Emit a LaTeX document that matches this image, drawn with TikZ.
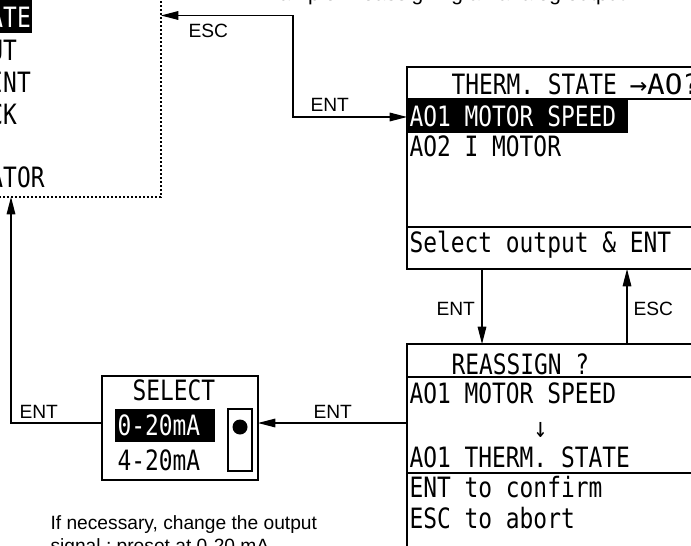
\documentclass[tikz,border=0pt]{standalone}
\usepackage{fontspec}
\setmainfont{Liberation Sans}
\newfontfamily\lcd[FakeStretch=0.817]{DejaVu Sans Mono}
\newfontfamily\lcdwide[FakeStretch=1.05]{DejaVu Sans Mono}
\usetikzlibrary{arrows.meta}
\begin{document}
\begin{tikzpicture}[x=0.75pt, y=-0.75pt, line width=0.8pt, >={Triangle[length=13pt,width=6.5pt]},
		lab/.style={font=\fontsize{14.4}{16}\selectfont, inner sep=0pt, anchor=base west},
		lcdtxt/.style={font=\lcd\fontsize{21}{24}\selectfont, inner sep=0pt, anchor=base west},
		inv/.style={lcdtxt, text=white},
		frame/.style={line width=0.9pt},
		headbox/.style={line width=1.3pt},
		sep/.style={line width=1.6pt}]
		\useasboundingbox (0,0) rectangle (691,545);
		\clip (0,0) rectangle (691,545);
		% title, cut by the top edge
		\node[font=\fontsize{15.75}{18}\selectfont, inner sep=0pt, anchor=base west] (title) at (254,1) {Example : reassigning an analog output};
		% menu screen (left, dotted)
		\draw[frame, dash pattern=on 1.5pt off 1.5pt] (-200,-60) rectangle (161,197);
		\fill (-140,-5) rectangle (32,33);
		\node[inv] (m1) at (-135,28) {THERM. STATE};
		\node[lcdtxt] (m2) at (-135,61) {ANAL. INPUT};
		\node[lcdtxt] (m3) at (-135,93) {PID SETPOINT};
		\node[lcdtxt] (m4) at (-135,125) {MOTOR BLOCK};
		\node[lcdtxt] (m6) at (-135,188) {PID REGULATOR};
		% output list screen
		\draw[frame] (407,67) rectangle (720,269);
		\draw[headbox] (407,67) rectangle (720,99);
		\draw[sep] (407,227) -- (720,227);
		\node[lcdtxt] (t0) at (451,95) {THERM. STATE};
		\node[lcdtxt, font=\lcdwide\fontsize{21}{24}\selectfont] (t0b) at (629,95) {→AO?};
		\fill (407,100) rectangle (628,133);
		\node[inv] (t1) at (409,127) {AO1 MOTOR SPEED};
		\node[lcdtxt] (t2) at (409,157) {AO2 I MOTOR};
		\node[lcdtxt] (t3) at (409,252) {Select output \& ENT};
		% reassign screen
		\draw[frame] (407,344) rectangle (720,600);
		\draw[headbox] (407,344) rectangle (720,377);
		\draw[sep] (407,473) -- (720,473);
		\node[lcdtxt] (r0) at (451,374) {REASSIGN ?};
		\node[lcdtxt] (r1) at (409,403) {AO1 MOTOR SPEED};
		\node[lcdtxt] (r2) at (533,437) {↓};
		\node[lcdtxt] (r3) at (409,467) {AO1 THERM. STATE};
		\node[lcdtxt] (r4) at (409,497) {ENT to confirm};
		\node[lcdtxt] (r5) at (409,528) {ESC to abort};
		% select screen
		\draw[frame] (102,376) rectangle (258,480);
		\node[lcdtxt] (s0) at (132,400) {SELECT};
		\fill (115,409) rectangle (215,442);
		\node[inv] (s1) at (117,435) {0-20mA};
		\node[lcdtxt] (s2) at (117,470) {4-20mA};
		\draw[line width=1.8pt] (228,409) rectangle (252,471);
		\fill (240,427) circle (7.5);
		% connectors
		\coordinate (menuIn) at (161,15.5);
		\coordinate (escBend) at (293,15.5);
		\coordinate (entBend) at (293,117);
		\coordinate (thermIn) at (407,117);
		\coordinate (thermOut) at (482,269);
		\coordinate (reasIn) at (482,344);
		\coordinate (reasOut) at (627,344);
		\coordinate (thermBack) at (627,269);
		\coordinate (reasLeft) at (407,423);
		\coordinate (selIn) at (258,423);
		\coordinate (selOut) at (102,423);
		\coordinate (menuBend) at (11,423);
		\coordinate (menuOut) at (11,197);
		\draw[<->] (menuIn) -- (escBend) -- (entBend) -- (thermIn);
		\draw[->] (thermOut) -- (reasIn);
		\draw[->] (reasOut) -- (thermBack);
		\draw[->] (reasLeft) -- (selIn);
		\draw[->] (selOut) -- (menuBend) -- (menuOut);
		\node[lab] (esc1) at (188,38) {ESC};
		\node[lab] (ent1) at (310,112) {ENT};
		\node[lab] (ent2) at (436,315) {ENT};
		\node[lab] (esc2) at (633,315) {ESC};
		\node[lab] (ent3) at (313,418) {ENT};
		\node[lab] (ent4) at (19,418) {ENT};
		% note under the select screen
		\node[lab] (note1) at (50,529) {If necessary, change the output};
		\node[lab] (note2) at (50,552) {signal ; preset at 0-20 mA};
	\end{tikzpicture}
\end{document}
